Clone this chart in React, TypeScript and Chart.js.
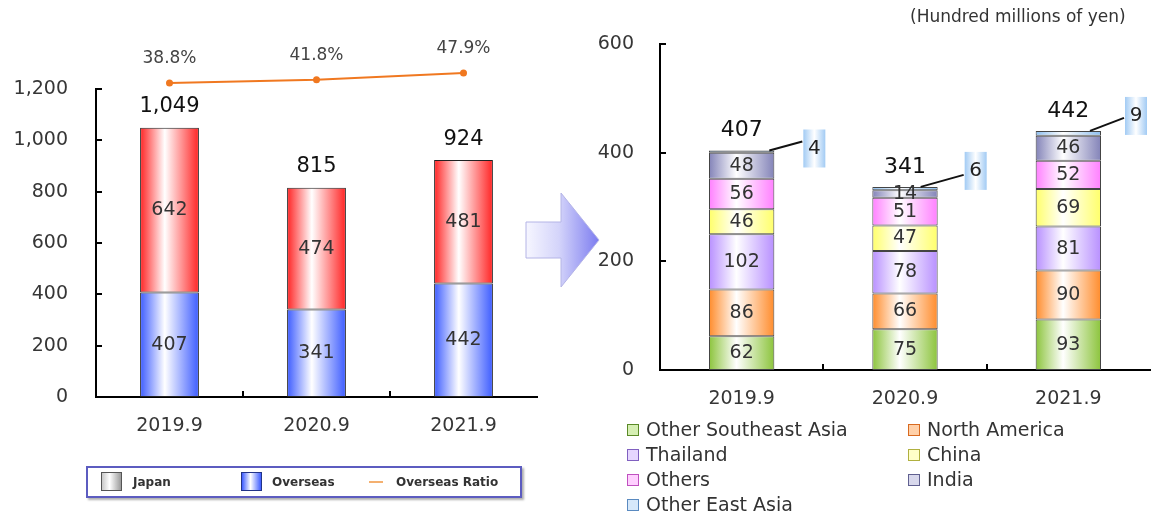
import React, { useEffect, useRef } from "react";
import { Chart, registerables } from "chart.js";

Chart.register(...registerables);

// ---------------- data ----------------
const leftCategories = ["2019.9", "2020.9", "2021.9"];
const overseasValues = [407, 341, 442];
const japanValues = [642, 474, 481];
const leftTotals = [1049, 815, 924];
const overseasRatio = [38.8, 41.8, 47.9];

const rightCategories = ["2019.9", "2020.9", "2021.9"];
const otherSoutheastAsia = [62, 75, 93];
const northAmerica = [86, 66, 90];
const thailand = [102, 78, 81];
const china = [46, 47, 69];
const othersValues = [56, 51, 52];
const india = [48, 14, 46];
const otherEastAsia = [4, 6, 9];
const rightTotals = [407, 341, 442];

const leftLegendLabels = ["Japan", "Overseas", "Overseas Ratio"];
const rightLegendLabels = [
  "Other Southeast Asia",
  "North America",
  "Thailand",
  "China",
  "Others",
  "India",
  "Other East Asia",
];
const unitLabel = "(Hundred millions of yen)";

// ---------------- styles ----------------
const FONT = "'DejaVu Sans', Verdana, sans-serif";
const TEXT = "#363636";
const RED = "#ff2424";
const BLUE = "#3d5cff";
const ORANGE_LINE = "#f07820";
const rightColors = ["#8cc43c", "#ff8c2c", "#b890ff", "#ffff6a", "#ff80ff", "#8383b8", "#8cbef0"];
const rightLegendBorders = ["#5a8a28", "#d86a20", "#8060c0", "#b0b040", "#c050c0", "#606090", "#5a8ac0"];
const rightLegendFills = ["#d6efb4", "#ffd0a8", "#e6d6ff", "#ffffc8", "#ffd0ff", "#d8d8ec", "#d6e8fa"];
// callout layout (offsets relative to each bar's right edge / stack top)
const calloutStyle = [
  { dx: 29, dy: -2, inset: 5, endDy: -7 },
  { dx: 27, dy: -16, inset: 17, endDy: 4 },
  { dx: 24, dy: -15, inset: 11, endDy: 2 },
];

function hGradient(ctx: any, color: string, tint = "#ffffff") {
  const chart = ctx.chart;
  const xs = chart.scales && chart.scales.x;
  if (!chart.chartArea || !xs || ctx.dataIndex === undefined) return color;
  const n = chart.data.labels.length;
  const w = (xs.width / n) * 0.4;
  const cx = xs.getPixelForValue(ctx.dataIndex);
  const g = chart.ctx.createLinearGradient(cx - w / 2, 0, cx + w / 2, 0);
  g.addColorStop(0, color);
  g.addColorStop(0.42, tint);
  g.addColorStop(1, color);
  return g;
}

function drawInwardTicks(chart: any) {
  const { ctx, chartArea: area } = chart;
  const x = chart.scales.x;
  const y = chart.scales.y;
  ctx.save();
  ctx.strokeStyle = "#000";
  ctx.lineWidth = 2;
  y.ticks.forEach((t: any) => {
    if (t.value <= 0) return;
    const py = Math.round(y.getPixelForValue(t.value));
    ctx.beginPath();
    ctx.moveTo(area.left, py);
    ctx.lineTo(area.left + 6, py);
    ctx.stroke();
  });
  const n = chart.data.labels.length;
  for (let i = 1; i < n; i++) {
    const px = Math.round((x.getPixelForValue(i - 1) + x.getPixelForValue(i)) / 2);
    ctx.beginPath();
    ctx.moveTo(px, area.bottom);
    ctx.lineTo(px, area.bottom - 6);
    ctx.stroke();
  }
  ctx.restore();
}

const leftLabelsPlugin = {
  id: "leftLabels",
  afterDatasetsDraw(chart: any) {
    drawInwardTicks(chart);
    const ctx = chart.ctx;
    ctx.save();
    ctx.textAlign = "center";
    ctx.textBaseline = "middle";
    ctx.font = `19px ${FONT}`;
    ctx.fillStyle = "#333";
    [0, 1].forEach((di) => {
      const meta = chart.getDatasetMeta(di);
      meta.data.forEach((el: any, i: number) => {
        const v = chart.data.datasets[di].data[i];
        ctx.fillText(String(v), el.x, (el.y + el.base) / 2);
      });
    });
    const topMeta = chart.getDatasetMeta(1);
    ctx.font = `21px ${FONT}`;
    ctx.fillStyle = "#111";
    topMeta.data.forEach((el: any, i: number) => {
      ctx.fillText(leftTotals[i].toLocaleString("en-US"), el.x, el.y - 21);
    });
    // ratio markers (drawn here because they sit above the plot area) and their labels
    const lineMeta = chart.getDatasetMeta(2);
    lineMeta.data.forEach((el: any, i: number) => {
      ctx.fillStyle = ORANGE_LINE;
      ctx.beginPath();
      ctx.arc(el.x, el.y, 3.5, 0, Math.PI * 2);
      ctx.fill();
      ctx.font = `17px ${FONT}`;
      ctx.fillStyle = "#444";
      ctx.fillText(overseasRatio[i].toFixed(1) + "%", el.x, el.y - 24);
    });
    ctx.restore();
  },
};

const rightLabelsPlugin = {
  id: "rightLabels",
  afterDatasetsDraw(chart: any) {
    drawInwardTicks(chart);
    const ctx = chart.ctx;
    ctx.save();
    ctx.textAlign = "center";
    ctx.textBaseline = "middle";
    ctx.font = `19px ${FONT}`;
    ctx.fillStyle = "#333";
    for (let di = 0; di < 6; di++) {
      const meta = chart.getDatasetMeta(di);
      meta.data.forEach((el: any, i: number) => {
        const v = chart.data.datasets[di].data[i];
        ctx.fillText(String(v), el.x, (el.y + el.base) / 2);
      });
    }
    const topMeta = chart.getDatasetMeta(6);
    topMeta.data.forEach((el: any, i: number) => {
      // total
      ctx.font = `22px ${FONT}`;
      ctx.fillStyle = "#111";
      ctx.fillText(String(rightTotals[i]), el.x, el.y - 20);
      // callout
      const st = calloutStyle[i];
      const barRight = el.x + el.width / 2;
      const boxL = barRight + st.dx;
      const cy = el.y + st.dy;
      const bw = 22;
      const bh = 38;
      const g = ctx.createLinearGradient(boxL, 0, boxL + bw, 0);
      g.addColorStop(0, "#a2cbf4");
      g.addColorStop(0.5, "#ffffff");
      g.addColorStop(1, "#a2cbf4");
      ctx.fillStyle = g;
      ctx.fillRect(boxL, cy - bh / 2, bw, bh);
      ctx.strokeStyle = "#111";
      ctx.lineWidth = 2;
      ctx.beginPath();
      ctx.moveTo(barRight - st.inset, el.y);
      ctx.lineTo(boxL - 1, cy + st.endDy);
      ctx.stroke();
      ctx.font = `20px ${FONT}`;
      ctx.fillStyle = "#222";
      ctx.fillText(String(chart.data.datasets[6].data[i]), boxL + bw / 2, cy);
    });
    ctx.restore();
  },
};

function baseScales(max: number, step: number, yWidth: number, yPad: number) {
  return {
    x: {
      stacked: true,
      grid: { display: false, drawTicks: false },
      border: { display: true, color: "#000", width: 2 },
      ticks: { color: TEXT, font: { family: FONT, size: 19 }, padding: 18, maxRotation: 0 },
      afterFit: (s: any) => {
        s.height = 40;
      },
    },
    y: {
      stacked: true,
      min: 0,
      max,
      grid: { display: false, drawTicks: false },
      border: { display: true, color: "#000", width: 2 },
      ticks: {
        stepSize: step,
        color: TEXT,
        font: { family: FONT, size: 19 },
        padding: yPad,
        callback: (v: any) => Number(v).toLocaleString("en-US"),
      },
      afterFit: (s: any) => {
        s.width = yWidth;
      },
    },
  } as any;
}

function leftConfig(): any {
  const scales = baseScales(1200, 200, 96, 28);
  scales.y2 = { display: false, min: -246.94, max: 33.34 };
  return {
    type: "bar",
    data: {
      labels: leftCategories,
      datasets: [
        {
          label: leftLegendLabels[1],
          data: overseasValues,
          backgroundColor: (c: any) => hGradient(c, BLUE),
          borderColor: "#222",
          borderWidth: 1,
          borderSkipped: false,
          barPercentage: 0.4,
          categoryPercentage: 1,
          order: 1,
        },
        {
          label: leftLegendLabels[0],
          data: japanValues,
          backgroundColor: (c: any) => hGradient(c, RED),
          borderColor: "#222",
          borderWidth: 1,
          borderSkipped: false,
          barPercentage: 0.4,
          categoryPercentage: 1,
          order: 1,
        },
        {
          type: "line",
          label: leftLegendLabels[2],
          data: overseasRatio,
          yAxisID: "y2",
          borderColor: ORANGE_LINE,
          backgroundColor: ORANGE_LINE,
          borderWidth: 2,
          pointRadius: 3.5,
          pointBackgroundColor: ORANGE_LINE,
          pointBorderWidth: 0,
          clip: false,
          order: 0,
        },
      ],
    },
    options: {
      responsive: false,
      animation: false,
      devicePixelRatio: 1,
      layout: { padding: { left: 0, right: 23, top: 89, bottom: 80 } },
      plugins: { legend: { display: false }, tooltip: { enabled: false } },
      scales,
    },
    plugins: [leftLabelsPlugin],
  };
}

function rightConfig(): any {
  const series = [otherSoutheastAsia, northAmerica, thailand, china, othersValues, india, otherEastAsia];
  return {
    type: "bar",
    data: {
      labels: rightCategories,
      datasets: series.map((d, i) => ({
        label: rightLegendLabels[i],
        data: d,
        backgroundColor: (c: any) => hGradient(c, rightColors[i]),
        borderColor: "#444",
        borderWidth: 1,
        borderSkipped: false,
        barPercentage: 0.4,
        categoryPercentage: 1,
      })),
    },
    options: {
      responsive: false,
      animation: false,
      devicePixelRatio: 1,
      layout: { padding: { left: 0, right: 8, top: 44, bottom: 107 } },
      plugins: { legend: { display: false }, tooltip: { enabled: false } },
      scales: baseScales(600, 200, 80, 26),
    },
    plugins: [rightLabelsPlugin],
  };
}

const boxGrad = (c: string) => `linear-gradient(90deg, ${c} 0%, #ffffff 45%, ${c} 100%)`;

export default function App() {
  const leftRef = useRef<HTMLCanvasElement>(null);
  const rightRef = useRef<HTMLCanvasElement>(null);

  useEffect(() => {
    Chart.defaults.font.family = FONT;
    const left = new Chart(leftRef.current as HTMLCanvasElement, leftConfig());
    const right = new Chart(rightRef.current as HTMLCanvasElement, rightConfig());
    return () => {
      left.destroy();
      right.destroy();
    };
  }, []);

  const legendText: React.CSSProperties = {
    position: "absolute",
    top: 0,
    lineHeight: "28px",
    fontFamily: FONT,
    fontWeight: "bold",
    fontSize: 12,
    color: "#333",
  };

  return (
    <div
      style={{
        position: "fixed",
        left: 0,
        top: 0,
        width: 1158,
        height: 517,
        background: "#fff",
        overflow: "hidden",
        fontFamily: FONT,
      }}
    >
      <canvas
        ref={leftRef}
        width={560}
        height={517}
        style={{ position: "absolute", left: 0, top: 0, width: 560, height: 517 }}
      />
      <canvas
        ref={rightRef}
        width={578}
        height={517}
        style={{ position: "absolute", left: 580, top: 0, width: 578, height: 517 }}
      />

      {/* arrow */}
      <svg
        width={90}
        height={110}
        viewBox="520 185 90 110"
        style={{ position: "absolute", left: 520, top: 185 }}
      >
        <defs>
          <linearGradient id="arrowGrad" x1="526" y1="0" x2="599" y2="0" gradientUnits="userSpaceOnUse">
            <stop offset="0" stopColor="#f6f6ff" />
            <stop offset="0.45" stopColor="#d4d4fa" />
            <stop offset="1" stopColor="#7c7cf0" />
          </linearGradient>
        </defs>
        <polygon
          points="526,222 561,222 561,193 599,240 561,287 561,258 526,258"
          fill="url(#arrowGrad)"
          stroke="#b4b4e6"
          strokeWidth={1}
        />
      </svg>

      {/* unit label */}
      <div
        style={{
          position: "absolute",
          left: 910,
          top: 6,
          fontSize: 17,
          color: "#333",
          whiteSpace: "nowrap",
        }}
      >
        {unitLabel}
      </div>

      {/* left legend */}
      <div
        style={{
          position: "absolute",
          left: 86,
          top: 466,
          width: 432,
          height: 28,
          border: "2px solid #5c5cc0",
          boxShadow: "2px 2px 2px #b0b0b0",
          background: "#fff",
        }}
      >
        <div
          style={{
            position: "absolute",
            left: 13,
            top: 4,
            width: 19,
            height: 17,
            border: "1px solid #555",
            background: "linear-gradient(90deg, #c8c8c8 0%, #ffffff 40%, #9a9a9a 100%)",
          }}
        />
        <div style={{ ...legendText, left: 45 }}>{leftLegendLabels[0]}</div>
        <div
          style={{
            position: "absolute",
            left: 153,
            top: 4,
            width: 19,
            height: 17,
            border: "1px solid #223388",
            background: boxGrad(BLUE),
          }}
        />
        <div style={{ ...legendText, left: 184 }}>{leftLegendLabels[1]}</div>
        <div
          style={{
            position: "absolute",
            left: 281,
            top: 13,
            width: 14,
            height: 2,
            background: "#f4b070",
          }}
        />
        <div style={{ ...legendText, left: 308 }}>{leftLegendLabels[2]}</div>
      </div>

      {/* right legend */}
      <div
        style={{
          position: "absolute",
          left: 627,
          top: 417,
          display: "grid",
          gridTemplateColumns: "281px auto",
          gridAutoRows: "25px",
        }}
      >
        {rightLegendLabels.map((lab, i) => (
          <div key={lab} style={{ display: "flex", alignItems: "center", height: 25 }}>
            <div
              style={{
                width: 10,
                height: 10,
                border: `1.5px solid ${rightLegendBorders[i]}`,
                background: rightLegendFills[i],
                marginRight: 7,
                flex: "none",
              }}
            />
            <span style={{ fontSize: 19, color: "#333", whiteSpace: "nowrap", lineHeight: "25px" }}>{lab}</span>
          </div>
        ))}
      </div>
    </div>
  );
}
